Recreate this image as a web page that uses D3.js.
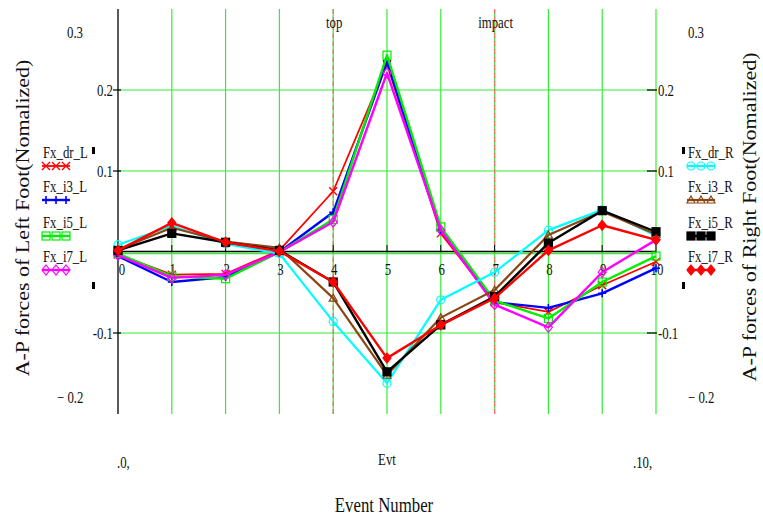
<!DOCTYPE html>
<html>
<head>
<meta charset="utf-8">
<script src="https://cdn.jsdelivr.net/npm/d3@7"></script>
<style>
  body { margin: 0; background: #fff; }
  svg { display: block; }
  text { font-family: "Liberation Serif", "Times New Roman", serif; fill: #111; }
</style>
</head>
<body>
<svg id="chart" width="763" height="518"></svg>
<script>
// Event numbers along the x axis
const events = [0, 1, 2, 3, 4, 5, 6, 7, 8, 9, 10];

// Left foot traces (left axis)
const fxDrL = [-0.003, -0.028, -0.027, 0.002, 0.075, 0.232, 0.023, -0.062, -0.074, -0.041, -0.012];
const fxI3L = [-0.005, -0.037, -0.031, 0.000, 0.049, 0.235, 0.027, -0.062, -0.069, -0.051, -0.020];
const fxI5L = [-0.002, -0.030, -0.033, 0.000, 0.040, 0.243, 0.031, -0.060, -0.082, -0.037, -0.005];
const fxI7L = [-0.004, -0.032, -0.028, 0.000, 0.037, 0.221, 0.027, -0.065, -0.093, -0.025, 0.015];

// Right foot traces (right axis)
const fxDrR = [0.009, 0.032, 0.010, -0.002, -0.086, -0.162, -0.059, -0.025, 0.027, 0.052, 0.020];
const fxI3R = [0.003, 0.030, 0.013, 0.005, -0.057, -0.152, -0.081, -0.047, 0.021, 0.050, 0.022];
const fxI5R = [0.002, 0.023, 0.012, 0.002, -0.037, -0.148, -0.090, -0.055, 0.011, 0.051, 0.025];
const fxI7R = [0.002, 0.036, 0.012, 0.001, -0.037, -0.131, -0.090, -0.057, 0.002, 0.033, 0.015];

const seriesNames = ['Fx_dr_L', 'Fx_i3_L', 'Fx_i5_L', 'Fx_i7_L', 'Fx_dr_R', 'Fx_i3_R', 'Fx_i5_R', 'Fx_i7_R'];

// axis ticks and the marker lines
const yGrid = [0.2, 0.1, -0.1];
const yTickLabels = ['0.2', '0.1', '-0.1'];
const yLimits = [0.3, -0.2];
const yLimitLabels = ['0.3', '\u2212 0.2'];
const markerEvents = [4, 7];
const markerLabels = ['top', 'impact'];

const svg = d3.select('#chart');
const x = d3.scaleLinear().domain([0, 10]).range([118, 656]);
const y = d3.scaleLinear().domain([-0.2, 0.3]).range([414, 9]);

const GRID = '#33ee33';
const SQ = 0.8;  // the picture is squashed horizontally, text follows it

const series = [
  { name: seriesNames[0], values: fxDrL, color: '#ff0000', marker: 'x', width: 1.8 },
  { name: seriesNames[1], values: fxI3L, color: '#0000ff', marker: 'plus', width: 2.4 },
  { name: seriesNames[2], values: fxI5L, color: '#00ee00', marker: 'square', width: 2.4 },
  { name: seriesNames[3], values: fxI7L, color: '#ff00ff', marker: 'diamond', width: 2.4 },
  { name: seriesNames[4], values: fxDrR, color: '#00ffff', marker: 'circle', width: 2.2 },
  { name: seriesNames[5], values: fxI3R, color: '#8b4513', marker: 'triangle', width: 2.2 },
  { name: seriesNames[6], values: fxI5R, color: '#000000', marker: 'fsquare', width: 2.4 },
  { name: seriesNames[7], values: fxI7R, color: '#ff0000', marker: 'fdiamond', width: 2.4 }
];

function label(px, py, str, size, anchor) {
  return svg.append('text')
    .attr('transform', `translate(${px},${py}) scale(${SQ},1)`)
    .attr('text-anchor', anchor || 'start')
    .attr('dy', '0.35em')
    .style('font-size', size + 'px')
    .text(str);
}

// grid
svg.append('g').selectAll('line')
  .data(events.slice(1))
  .enter().append('line')
  .attr('x1', d => x(d)).attr('x2', d => x(d))
  .attr('y1', y(0.3)).attr('y2', y(-0.2))
  .attr('stroke', GRID).attr('stroke-width', 1.2);

svg.append('g').selectAll('line')
  .data(yGrid)
  .enter().append('line')
  .attr('x1', x(0)).attr('x2', x(10))
  .attr('y1', d => y(d)).attr('y2', d => y(d))
  .attr('stroke', GRID).attr('stroke-width', 1.2);

// dashed marker lines for top / impact
svg.append('g').selectAll('line')
  .data(markerEvents)
  .enter().append('line')
  .attr('x1', d => x(d)).attr('x2', d => x(d))
  .attr('y1', y(0.3)).attr('y2', y(-0.2))
  .attr('stroke', '#f07070').attr('stroke-width', 1.3)
  .attr('stroke-dasharray', '5,3');

markerEvents.forEach((e, i) => label(x(e) + 1, 22, markerLabels[i], 16, 'middle'));

// zero line: green grid with the black x axis over it
svg.append('line')
  .attr('x1', x(0)).attr('x2', x(10))
  .attr('y1', y(0) + 1.5).attr('y2', y(0) + 1.5)
  .attr('stroke', GRID).attr('stroke-width', 1.4);
svg.append('line')
  .attr('x1', x(0)).attr('x2', x(10))
  .attr('y1', y(0) - 0.5).attr('y2', y(0) - 0.5)
  .attr('stroke', '#000').attr('stroke-width', 1.6);

// left axis
svg.append('line')
  .attr('x1', x(0)).attr('x2', x(0))
  .attr('y1', y(0.3)).attr('y2', y(-0.2))
  .attr('stroke', '#000').attr('stroke-width', 1.3);

// ticks
svg.append('g').selectAll('line')
  .data(events.slice(1))
  .enter().append('line')
  .attr('x1', d => x(d)).attr('x2', d => x(d))
  .attr('y1', y(0) - 7).attr('y2', y(0))
  .attr('stroke', '#000').attr('stroke-width', 1);

svg.append('g').selectAll('line')
  .data(yGrid.concat([0]))
  .enter().append('line')
  .attr('x1', x(0) - 5).attr('x2', x(0) + 3)
  .attr('y1', d => y(d)).attr('y2', d => y(d))
  .attr('stroke', '#000').attr('stroke-width', 1.2);

svg.append('g').selectAll('line')
  .data(yGrid)
  .enter().append('line')
  .attr('x1', x(10) - 9).attr('x2', x(10) + 1)
  .attr('y1', d => y(d)).attr('y2', d => y(d))
  .attr('stroke', '#000').attr('stroke-width', 1.2);

// tick labels
yGrid.forEach((v, i) => {
  label(x(0) - 5, y(v), yTickLabels[i], 16, 'end');
  label(x(10) + 2, y(v), yTickLabels[i], 16, 'start');
});
label(67, y(yLimits[0]) + 23, yLimitLabels[0], 16);
label(57, y(yLimits[1]) - 17, yLimitLabels[1], 16);
label(688, y(yLimits[0]) + 23, yLimitLabels[0], 16);
label(688, y(yLimits[1]) - 17, yLimitLabels[1], 16);

events.forEach(e => label(x(e) + (e === 0 ? 4 : 1), y(0) + 17, String(e), 16, 'middle'));

// bottom of the x axis
label(117, 462, '.0,', 16);
label(x(5), 459, 'Evt', 16, 'middle');
label(633, 462, '.10,', 16);
label(384, 505, 'Event Number', 21, 'middle');

// axis titles
svg.append('text')
  .attr('transform', 'translate(29,218) rotate(-90) scale(1,0.85)')
  .attr('text-anchor', 'middle')
  .style('font-size', '22px')
  .text('A-P forces of Left Foot(Nomalized)');
svg.append('text')
  .attr('transform', 'translate(756,217) rotate(-90) scale(1,0.85)')
  .attr('text-anchor', 'middle')
  .style('font-size', '22px')
  .text('A-P forces of Right Foot(Nomalized)');

// marker shapes
function drawMarker(g, px, py, s) {
  const r = 4;
  const m = s.marker;
  if (m === 'x') {
    g.append('path').attr('d', `M${px - r},${py - r}L${px + r},${py + r}M${px - r},${py + r}L${px + r},${py - r}`)
      .attr('stroke', s.color).attr('stroke-width', 1.4).attr('fill', 'none');
  } else if (m === 'plus') {
    g.append('path').attr('d', `M${px - r},${py}L${px + r},${py}M${px},${py - r}L${px},${py + r}`)
      .attr('stroke', s.color).attr('stroke-width', 1.6).attr('fill', 'none');
  } else if (m === 'square' || m === 'fsquare') {
    g.append('rect').attr('x', px - r).attr('y', py - r).attr('width', 2 * r).attr('height', 2 * r)
      .attr('stroke', s.color).attr('stroke-width', 1.2)
      .attr('fill', m === 'fsquare' ? s.color : 'none');
  } else if (m === 'diamond' || m === 'fdiamond') {
    g.append('path').attr('d', `M${px},${py - r - 1}L${px + r},${py}L${px},${py + r + 1}L${px - r},${py}Z`)
      .attr('stroke', s.color).attr('stroke-width', 1.2)
      .attr('fill', m === 'fdiamond' ? s.color : 'none');
  } else if (m === 'circle') {
    g.append('circle').attr('cx', px).attr('cy', py).attr('r', r)
      .attr('stroke', s.color).attr('stroke-width', 1.2).attr('fill', 'none');
  } else if (m === 'triangle') {
    g.append('path').attr('d', `M${px},${py - r}L${px + r},${py + r - 1}L${px - r},${py + r - 1}Z`)
      .attr('stroke', s.color).attr('stroke-width', 1.2).attr('fill', 'none');
  }
}

// traces
const line = d3.line().x((d, i) => x(events[i])).y(d => y(d));

series.forEach(s => {
  const g = svg.append('g');
  g.append('path')
    .attr('d', line(s.values))
    .attr('fill', 'none')
    .attr('stroke', s.color)
    .attr('stroke-width', s.width)
    .attr('stroke-linejoin', 'round');
  s.values.forEach((v, i) => drawMarker(g, x(events[i]), y(v), s));
});

// legends
const legendRows = [152, 186, 222, 256];
series.forEach((s, i) => {
  const left = i < 4;
  const lx = left ? 43 : 688;
  const ty = legendRows[i % 4];
  label(lx, ty, s.name, 16);
  const g = svg.append('g');
  g.append('line')
    .attr('x1', lx - 1).attr('x2', lx + 27)
    .attr('y1', ty + 14).attr('y2', ty + 14)
    .attr('stroke', s.color).attr('stroke-width', s.width);
  [3, 13, 23].forEach(dx => drawMarker(g, lx + dx, ty + 14, s));
});

// little black marks next to the legends
[[92, 147], [92, 282], [682, 147], [682, 282]].forEach(p => {
  svg.append('rect').attr('x', p[0]).attr('y', p[1]).attr('width', 3).attr('height', 7).attr('fill', '#000');
});
</script>
</body>
</html>
